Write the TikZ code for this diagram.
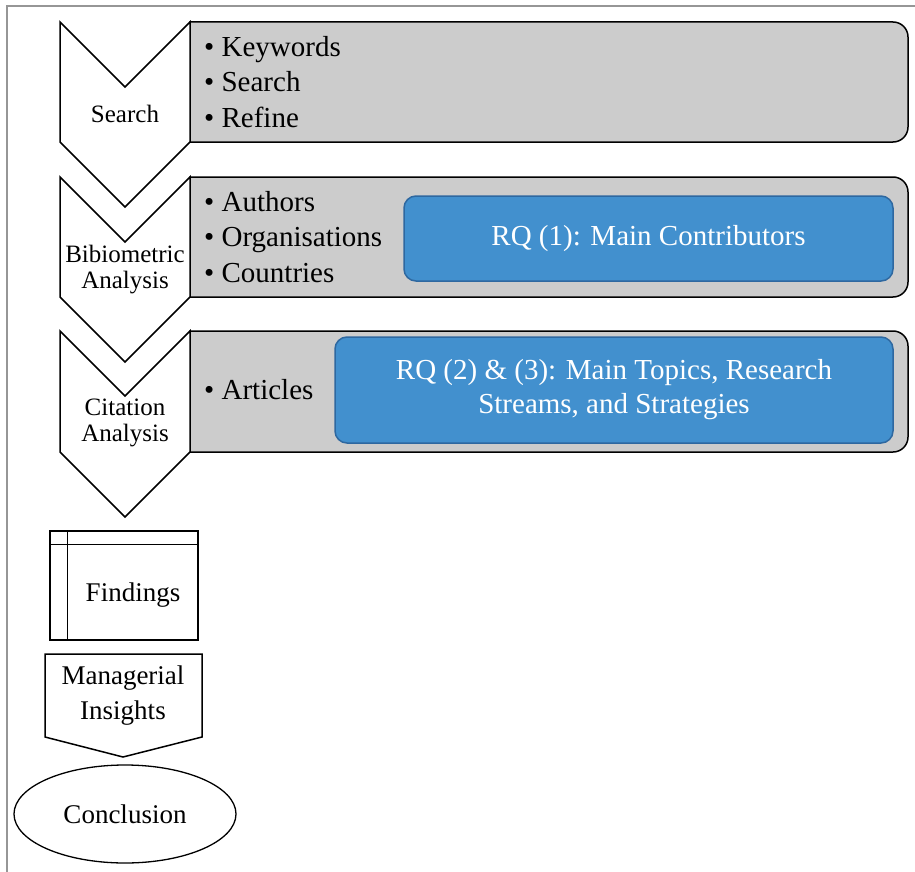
\documentclass[tikz,border=0pt]{standalone}
\usepackage{fontspec}
\setmainfont{Liberation Serif}
\usetikzlibrary{shapes,positioning}
\definecolor{bandgray}{RGB}{204,204,204}
\definecolor{rqblue}{RGB}{66,144,206}
\definecolor{rqedge}{RGB}{46,104,160}
\definecolor{framegray}{RGB}{150,150,150}
\tikzstyle{chev} = [draw=black, line width=1.5pt, fill=white, line join=miter]
\tikzstyle{band} = [draw=black, line width=1.5pt, fill=bandgray]
\tikzstyle{stagelabel} = [align=center, inner sep=0pt, font=\fontsize{25}{26}\selectfont]
\tikzstyle{items} = [anchor=west, align=left, inner sep=0pt, font=\fontsize{29}{35.5}\selectfont]
\tikzstyle{rq} = [rounded corners=12pt, draw=rqedge, line width=1.5pt, fill=rqblue, text=white, align=center, font=\fontsize{29}{34}\selectfont]
\tikzstyle{endtext} = [align=center, inner sep=0pt, font=\fontsize{27}{35}\selectfont]

\begin{document}
\begin{tikzpicture}[x=1pt, y=-1pt]
	\useasboundingbox (0,0) rectangle (915,872);
	\draw[framegray, line width=2pt] (7,880) -- (7,6) -- (920,6);

	% grey bands
	\draw[band] (190,22) -- (893,22) arc[start angle=-90, end angle=0, radius=15] -- (908,127) arc[start angle=0, end angle=90, radius=15] -- (190,142) -- cycle;
	\draw[band] (190,177) -- (893,177) arc[start angle=-90, end angle=0, radius=15] -- (908,282) arc[start angle=0, end angle=90, radius=15] -- (190,297) -- cycle;
	\draw[band] (190,331) -- (893,331) arc[start angle=-90, end angle=0, radius=15] -- (908,437) arc[start angle=0, end angle=90, radius=15] -- (190,452) -- cycle;

	% chevrons
	\draw[chev] (60,22) -- (125,87) -- (190,22) -- (190,142) -- (125,207) -- (60,142) -- cycle;
	\draw[chev] (60,177) -- (125,242) -- (190,177) -- (190,297) -- (125,362) -- (60,297) -- cycle;
	\draw[chev] (60,331) -- (125,396) -- (190,331) -- (190,452) -- (125,517) -- (60,452) -- cycle;

	\node[stagelabel] (search) at (125,114) {Search};
	\node[stagelabel] (biblio) at (125,270) {Bibiometric\\Analysis};
	\node[stagelabel] (citation) at (125,423) {Citation\\Analysis};

	\node[items] (searchitems) at (204,82) {\textbullet~Keywords\\\textbullet~Search\\\textbullet~Refine};
	\node[items] (biblioitems) at (204,237) {\textbullet~Authors\\\textbullet~Organisations\\\textbullet~Countries};
	\node[items] (citeitems) at (204,390) {\textbullet~Articles};

	\node[rq, minimum width=489pt, minimum height=85pt] (rqone) at (648.5,238.5) {RQ (1): Main Contributors};
	\node[rq, minimum width=558pt, minimum height=106pt] (rqtwo) at (614,390) {RQ (2) \& (3): Main Topics, Research\\Streams, and Strategies};

	% findings, insights, conclusion
	\node[draw, line width=1.5pt, minimum width=148pt, minimum height=109pt] (findings) at (124,585.5) {};
	\draw[line width=1.5pt] ([yshift=-14pt]findings.north west) -- ([yshift=-14pt]findings.north east);
	\draw[line width=1.5pt] ([xshift=18pt]findings.north west) -- ([xshift=18pt]findings.south west);
	\node[endtext] (findingstext) at ([xshift=9pt, yshift=-10pt]findings.center) {Findings};

	\draw[chev] (45,654) -- (202,654) -- (202,737) -- (123,757) -- (45,737) -- cycle;
	\node[endtext] (insights) at (123,696) {Managerial\\Insights};

	\node[draw, ellipse, line width=1.3pt, minimum width=222pt, minimum height=98pt, font=\fontsize{27}{35}\selectfont] (conclusion) at (125,814) {Conclusion};
\end{tikzpicture}
\end{document}
